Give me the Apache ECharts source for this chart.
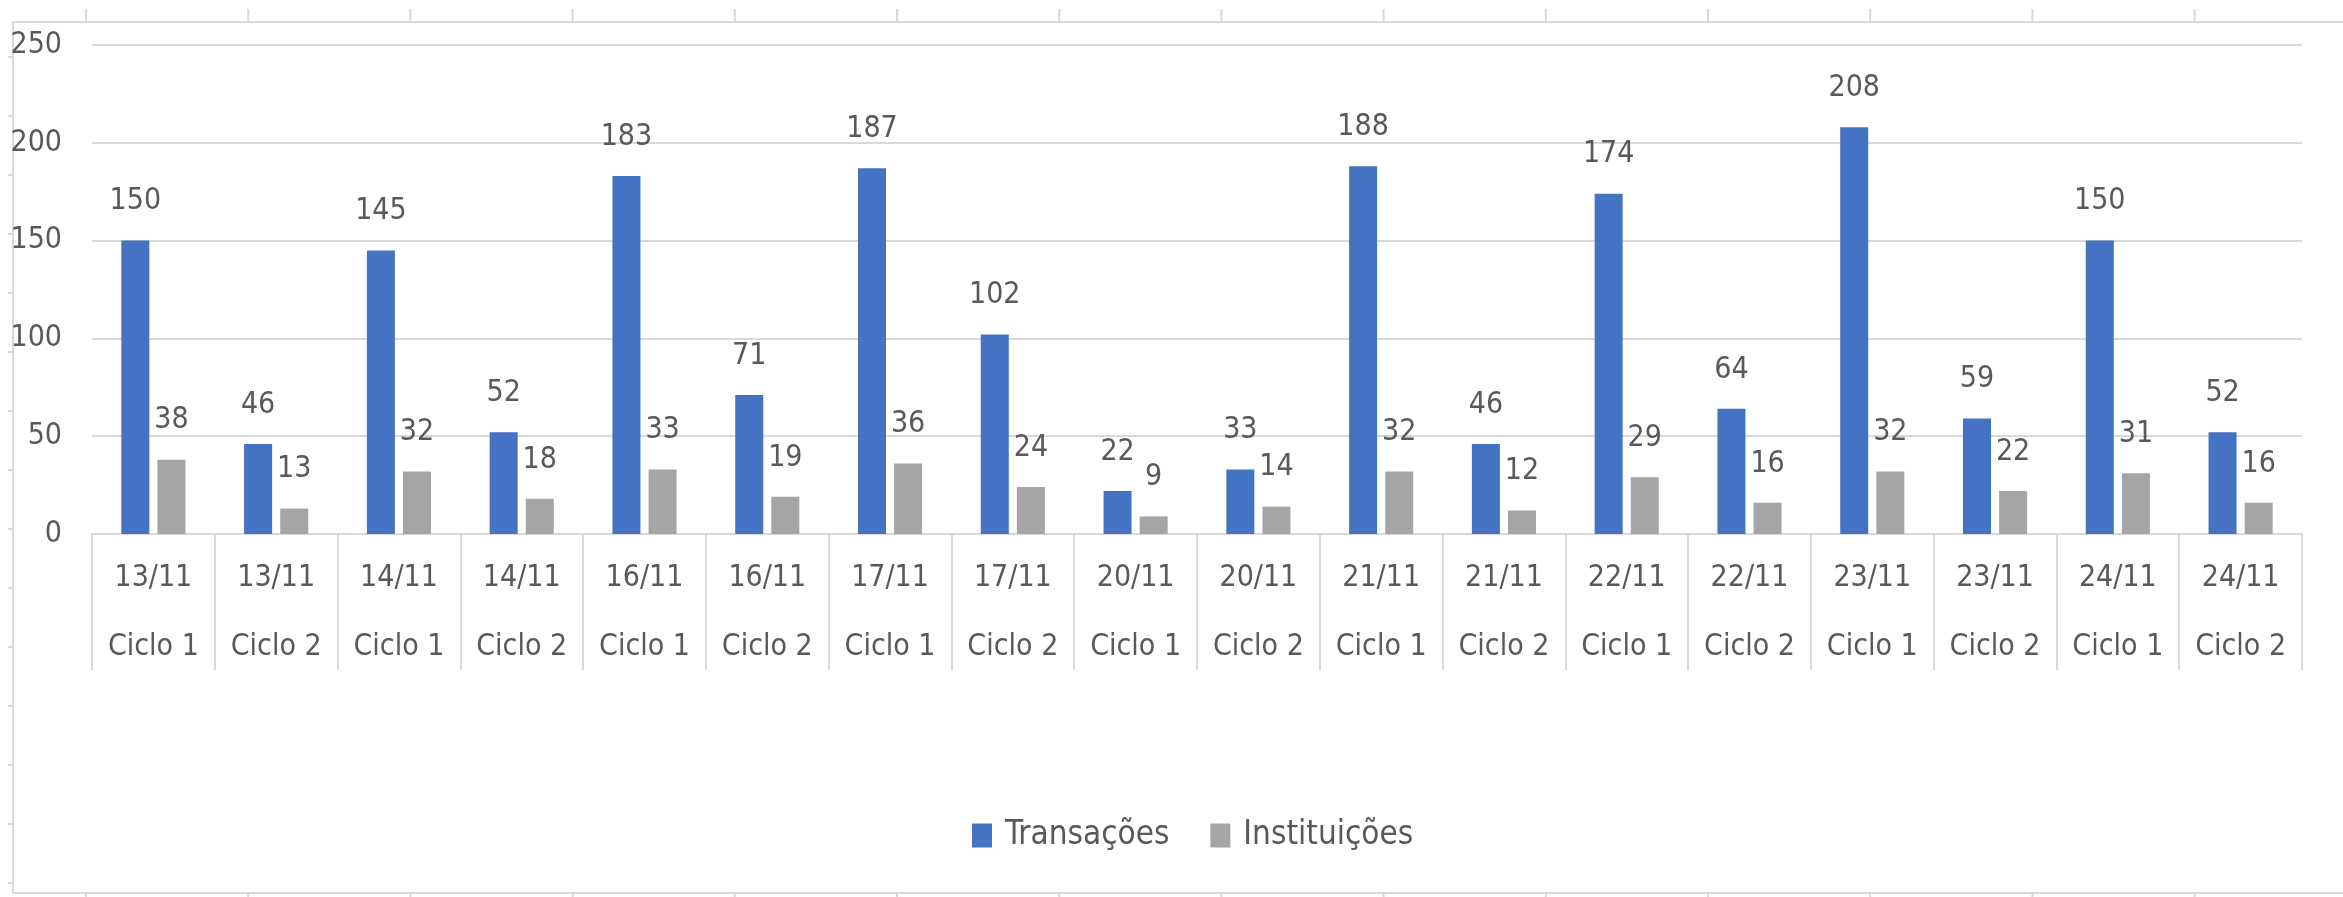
<!DOCTYPE html>
<html>
<head>
<meta charset="utf-8">
<script src="https://cdn.jsdelivr.net/npm/echarts@6/dist/echarts.min.js"></script>
<style>
  html, body { margin: 0; padding: 0; background: #fff; }
  #chart { width: 2343px; height: 897px; }
</style>
</head>
<body>
<div id="chart"></div>
<script>
// dados
var datas = ['13/11','13/11','14/11','14/11','16/11','16/11','17/11','17/11','20/11','20/11',
             '21/11','21/11','22/11','22/11','23/11','23/11','24/11','24/11'];
var ciclos = ['Ciclo 1','Ciclo 2','Ciclo 1','Ciclo 2','Ciclo 1','Ciclo 2','Ciclo 1','Ciclo 2','Ciclo 1','Ciclo 2',
              'Ciclo 1','Ciclo 2','Ciclo 1','Ciclo 2','Ciclo 1','Ciclo 2','Ciclo 1','Ciclo 2'];
var transacoes = [150, 46, 145, 52, 183, 71, 187, 102, 22, 33, 188, 46, 174, 64, 208, 59, 150, 52];
var instituicoes = [38, 13, 32, 18, 33, 19, 36, 24, 9, 14, 32, 12, 29, 16, 32, 22, 31, 16];
var yTicks = [0, 50, 100, 150, 200, 250];

var fonte = '"Liberation Sans Narrow", "DejaVu Sans Condensed", sans-serif';
var categorias = datas.map(function (d, i) { return d + '\n' + ciclos[i]; });

// moldura da planilha (bordas e marcas de linhas/colunas)
var grade = [];
grade.push({
  type: 'rect', silent: true,
  shape: { x: 13, y: 22, width: 2400, height: 871 },
  style: { fill: 'none', stroke: '#d9d9d9', lineWidth: 2 }
});
for (var c = 0; c < 14; c++) {
  var cx = 86 + c * 162.2;
  grade.push({ type: 'line', silent: true, shape: { x1: cx, y1: 9, x2: cx, y2: 22 }, style: { stroke: '#d9d9d9', lineWidth: 2 } });
  grade.push({ type: 'line', silent: true, shape: { x1: cx, y1: 893, x2: cx, y2: 897 }, style: { stroke: '#d9d9d9', lineWidth: 2 } });
}
for (var r = 0; r < 15; r++) {
  var ry = 57 + r * 59;
  grade.push({ type: 'line', silent: true, shape: { x1: 8, y1: ry, x2: 13, y2: ry }, style: { stroke: '#d9d9d9', lineWidth: 2 } });
}

var opt = {
  animation: false,
  backgroundColor: '#fff',
  textStyle: { fontFamily: fonte },
  graphic: grade,
  grid: { left: 92, right: 41, top: 45, bottom: 363 },
  legend: {
    data: ['Transações', 'Instituições'],
    left: 967,
    top: 814,
    itemWidth: 20,
    itemHeight: 24,
    itemGap: 41,
    icon: 'rect',
    textStyle: { fontFamily: fonte, fontSize: 33, color: '#595959', padding: [0, 0, 0, 8] }
  },
  xAxis: {
    type: 'category',
    data: categorias,
    axisLine: { lineStyle: { color: '#d9d9d9', width: 2 } },
    axisTick: { show: true, alignWithLabel: false, length: 136, lineStyle: { color: '#d9d9d9', width: 2 } },
    axisLabel: {
      interval: 0,
      margin: 10,
      color: '#595959',
      fontFamily: fonte,
      fontSize: 30,
      lineHeight: 69
    }
  },
  yAxis: {
    type: 'value',
    min: yTicks[0],
    max: yTicks[yTicks.length - 1],
    interval: 50,
    axisLine: { show: false },
    axisTick: { show: false },
    axisLabel: { color: '#595959', fontFamily: fonte, fontSize: 30, margin: 30 },
    splitLine: { lineStyle: { color: '#d9d9d9', width: 2 } }
  },
  series: [
    {
      name: 'Transações',
      type: 'bar',
      data: transacoes,
      barWidth: 28,
      barGap: '29%',
      itemStyle: { color: '#4472C4' },
      label: { show: true, position: 'top', distance: 24, color: '#595959', fontFamily: fonte, fontSize: 30 }
    },
    {
      name: 'Instituições',
      type: 'bar',
      data: instituicoes,
      barWidth: 28,
      itemStyle: { color: '#A5A5A5' },
      label: { show: true, position: 'top', distance: 24, color: '#595959', fontFamily: fonte, fontSize: 30 }
    }
  ]
};

var grafico = echarts.init(document.getElementById('chart'));
grafico.setOption(opt);
</script>
</body>
</html>
